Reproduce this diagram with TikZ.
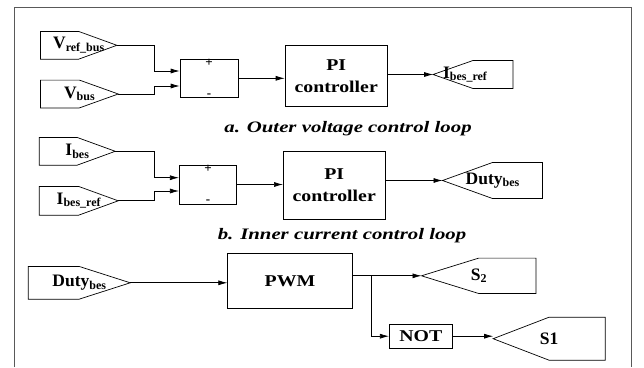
\documentclass[tikz,border=0pt]{standalone}
\usepackage{fontspec}
\setmainfont{Liberation Serif}
\newfontfamily\wideserif[FakeStretch=1.2]{Liberation Serif}
\newfontfamily\capserif[FakeStretch=1.3]{Liberation Serif}
\usetikzlibrary{arrows.meta}
\newcommand{\tsub}[1]{\raisebox{-2.5pt}{\fontsize{12}{12}\selectfont #1}}

\begin{document}
\begin{tikzpicture}[x=1pt,y=-1pt,>={Latex[length=9pt,width=5pt]},
  blk/.style={draw,line width=0.7pt,inner sep=0pt,align=center,font=\wideserif\bfseries\fontsize{16.5}{22}\selectfont},
  sumblk/.style={draw,line width=0.7pt,inner sep=0pt},
  tag/.style={inner sep=0pt,font=\bfseries\fontsize{17.5}{20}\selectfont},
  sgn/.style={inner sep=0.5pt,font=\bfseries\fontsize{13}{13}\selectfont},
  capt/.style={font=\capserif\bfseries\itshape\fontsize{16}{19}\selectfont},
  wire/.style={line width=0.7pt,->}]
\useasboundingbox (0,0) rectangle (644,367);
\draw[black!65,line width=1.5pt] (14.7,367) |- (631.7,7.3) -- (631.7,367);

% a. outer loop
\node[tag,minimum width=76pt,minimum height=27.3pt] (vref) at (78.7,45.3) {V\tsub{ref\_bus}};
\node[tag,minimum width=77.3pt,minimum height=27.4pt] (vbus) at (79.4,94) {V\tsub{bus}};
\node[sumblk,minimum width=58pt,minimum height=38.7pt] (sum1) at (209,78.3) {};
\node[sgn,below] (plus1) at (sum1.north) {+};
\node[sgn,above] (minus1) at (sum1.south) {-};
\node[blk,minimum width=102.3pt,minimum height=61pt] (pi1) at (336.2,76.2) {PI\\controller};
\node[tag,minimum width=79.4pt,minimum height=27.6pt] (ibesref) at (473,74.5) {I\tsub{bes\_ref}\hspace*{16pt}};
\node[capt] (capa) at (348,128.5) {a. Outer voltage control loop};

% b. inner loop
\node[tag,minimum width=75.7pt,minimum height=27.3pt] (ibes) at (77.2,151.3) {I\tsub{bes}};
\node[tag,minimum width=78.7pt,minimum height=28.3pt] (ibesin) at (78.7,200.8) {I\tsub{bes\_ref}};
\node[sumblk,minimum width=57.4pt,minimum height=39pt] (sum2) at (208,184.5) {};
\node[sgn,below] (plus2) at (sum2.north) {+};
\node[sgn,above] (minus2) at (sum2.south) {-};
\node[blk,minimum width=101.7pt,minimum height=67.6pt] (pi2) at (334.2,185.5) {PI\\controller};
\node[tag,minimum width=99.6pt,minimum height=35.6pt] (dutyout) at (492.5,180.5) {Duty\tsub{bes}};
\node[capt] (capb) at (342,236) {b. Inner current control loop};

% switching signals
\node[tag,minimum width=101.7pt,minimum height=32.3pt] (dutyin) at (79.2,282.8) {Duty\tsub{bes}};
\node[blk,minimum width=124.6pt,minimum height=55pt] (pwm) at (290,280.8) {PWM};
\node[tag,minimum width=114pt,minimum height=35pt] (stwo) at (478.7,275.8) {S\tsub{2}};
\node[blk,minimum width=63pt,minimum height=24.3pt] (nott) at (420.8,336.2) {NOT};
\node[tag,minimum width=111.7pt,minimum height=42.7pt] (sone) at (549.2,338.7) {S1};

% tag outlines
\foreach \t in {vref,vbus,ibes,ibesin,dutyin}
  \draw[line width=0.7pt] (\t.north west) -- (\t.north) -- (\t.east) -- (\t.south) -- (\t.south west) -- cycle;
\foreach \t in {ibesref,dutyout,stwo,sone}
  \draw[line width=0.7pt] (\t.north east) -- (\t.north) -- (\t.west) -- (\t.south) -- (\t.south east) -- cycle;

\draw[wire] (vref.east) -- ++(37.6,0) |- ([yshift=7.3pt]sum1.west);
\draw[wire] (vbus.east) -- ++(36.3,0) |- ([yshift=-7.7pt]sum1.west);
\draw[wire] (sum1.east) -- (sum1.east -| pi1.west);
\draw[wire] (pi1.east |- ibesref.west) -- (ibesref.west);

\draw[wire] (ibes.east) -- ++(39.1,0) |- ([yshift=6.8pt]sum2.west);
\draw[wire] (ibesin.east) -- ++(35.6,0) |- ([yshift=-6.5pt]sum2.west);
\draw[wire] (sum2.east) -- (sum2.east -| pi2.west);
\draw[wire] (pi2.east |- dutyout.west) -- (dutyout.west);

\draw[wire] (dutyin.east) -- (dutyin.east -| pwm.west);
\draw[wire] (pwm.east |- stwo.west) -- (stwo.west);
\draw[wire] (pwm.east |- stwo.west) -- ++(18.4,0) |- (nott.west);
\draw[wire] (nott.east) -- (nott.east -| sone.west);
\end{tikzpicture}
\end{document}
